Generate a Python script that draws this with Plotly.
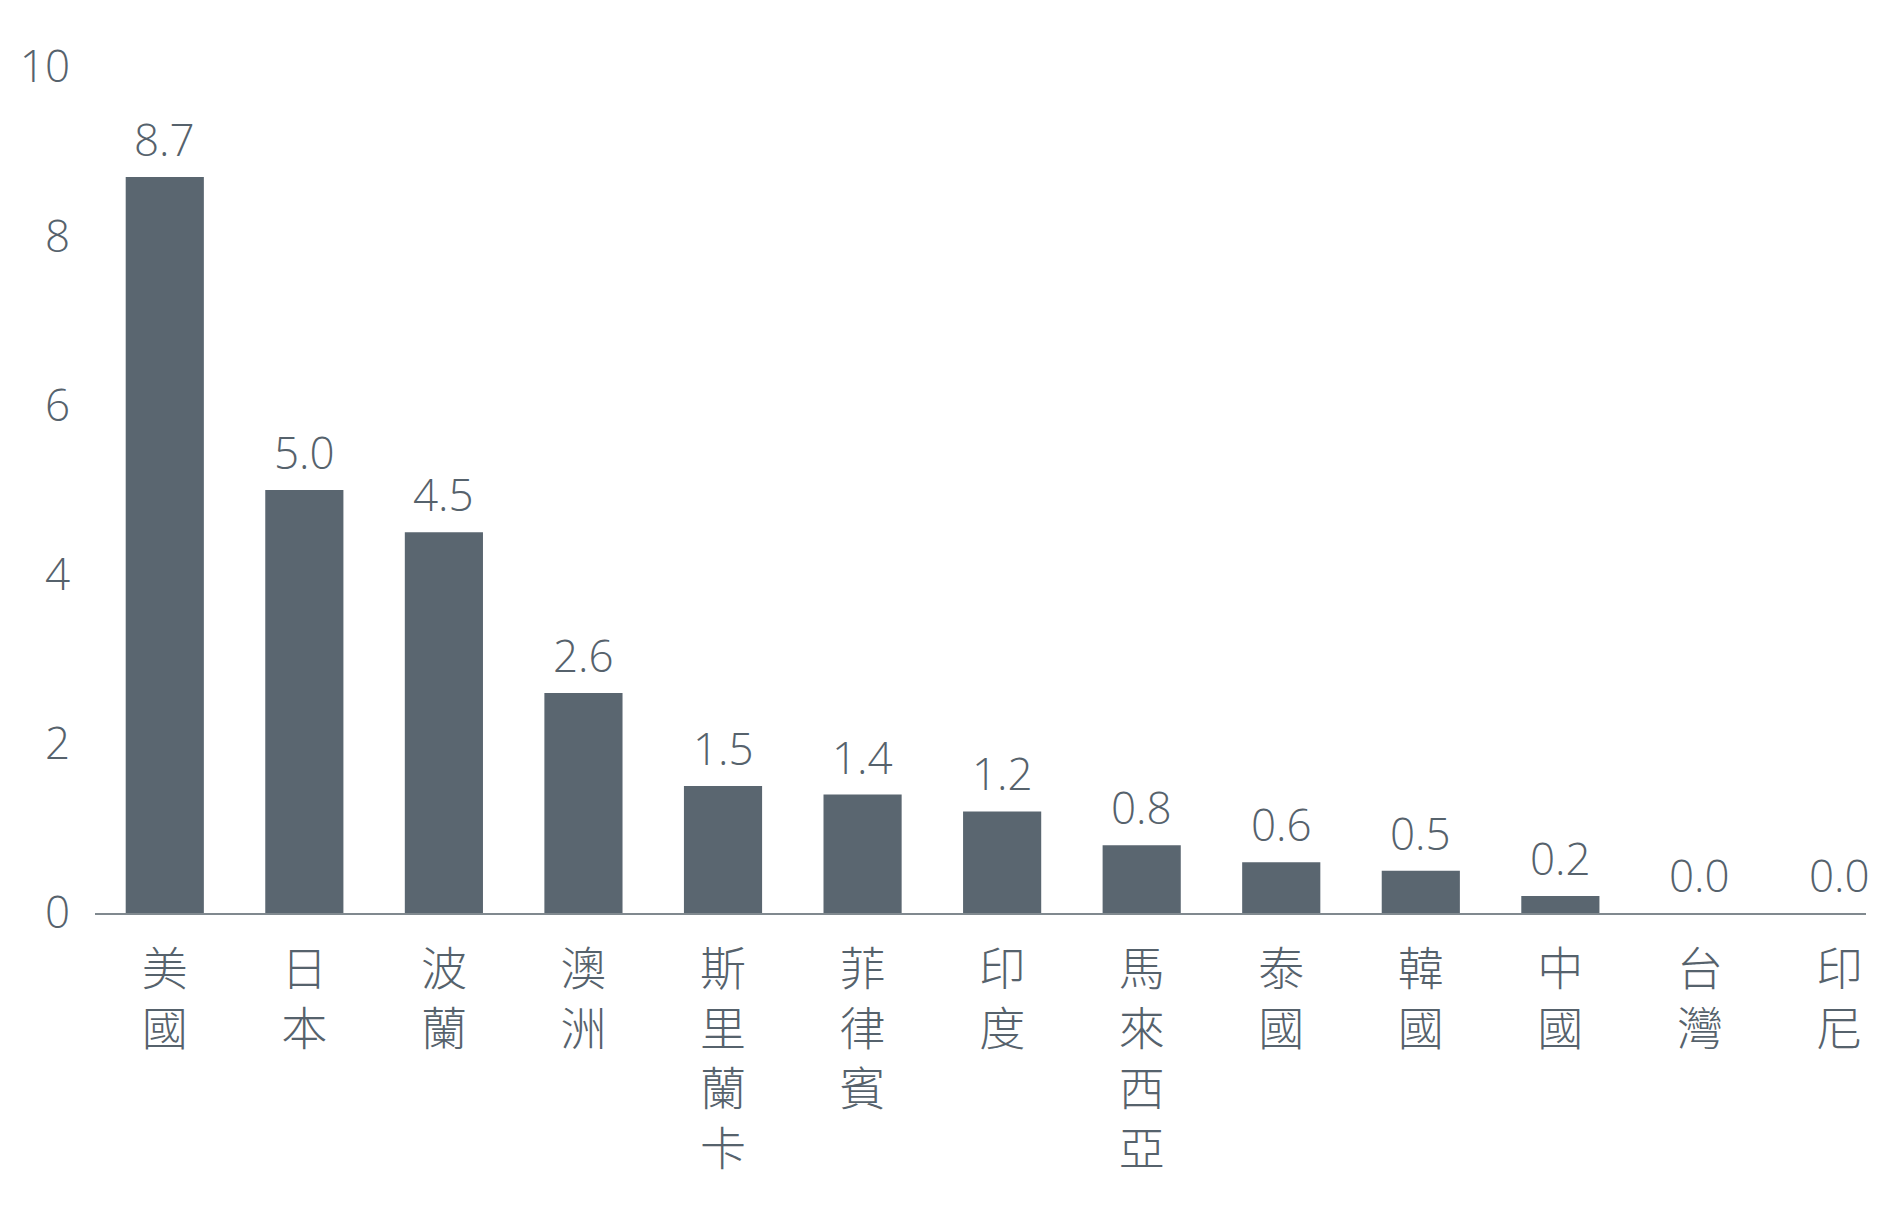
import plotly.graph_objects as go

# Data
countries = ["美國", "日本", "波蘭", "澳洲", "斯里蘭卡", "菲律賓", "印度",
             "馬來西亞", "泰國", "韓國", "中國", "台灣", "印尼"]
values = [8.7, 5.0, 4.5, 2.6, 1.5, 1.4, 1.2, 0.8, 0.6, 0.5, 0.2, 0.0, 0.0]
y_ticks = [0, 2, 4, 6, 8, 10]

bar_color = "#5a6670"
text_color = "#56626c"
font_fam = "Open Sans, Noto Sans CJK TC, sans-serif"

# one character per line, like the original
tick_text = ["<br>".join(list(c)) for c in countries]

fig = go.Figure()
fig.add_trace(go.Bar(x=countries, y=values, width=0.56,
                     marker=dict(color=bar_color, line=dict(width=0)),
                     hoverinfo="x+y"))

# value labels above bars
for c, v in zip(countries, values):
    fig.add_annotation(x=c, y=v, text=f"{v:.1f}", showarrow=False,
                       yanchor="bottom", yshift=6,
                       font=dict(family=font_fam, size=44, color=text_color, weight=300))

fig.update_layout(
    width=1884, height=1209,
    margin=dict(l=81, r=26, t=59, b=304),
    plot_bgcolor="white", paper_bgcolor="white",
    showlegend=False,
    font=dict(family=font_fam, color=text_color, weight=300),
)
fig.update_xaxes(type="category", range=[-0.5, 12.19],
                 tickvals=countries, ticktext=tick_text,
                 tickfont=dict(size=46, color=text_color, family="Noto Sans CJK TC", weight=300),
                 ticks="", ticklabelstandoff=15,
                 showline=True, linecolor="#80898f", linewidth=2,
                 showgrid=False, zeroline=False)
fig.update_yaxes(range=[0, 10], tickvals=y_ticks,
                 tickfont=dict(size=44, color=text_color, weight=300),
                 ticks="", ticklabelstandoff=24,
                 showgrid=False, zeroline=False, showline=False)

fig.write_html("out.html")
